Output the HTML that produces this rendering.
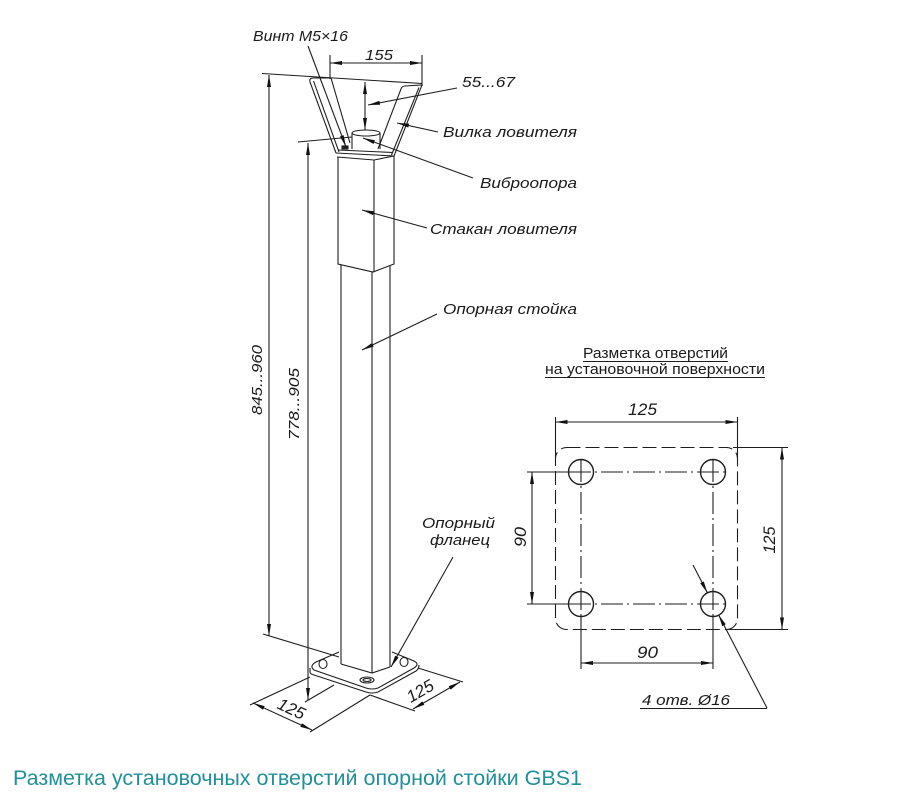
<!DOCTYPE html>
<html><head><meta charset="utf-8"><style>
html,body{margin:0;padding:0;background:#fff;}
svg{display:block;}
text{font-family:"Liberation Sans","DejaVu Sans",sans-serif;fill:#1a1a1a;}
.i{font-style:italic;font-size:15px;}
.n{font-style:italic;font-size:17px;}
</style></head><body>
<svg width="901" height="796" viewBox="0 0 901 796" xmlns="http://www.w3.org/2000/svg">
<defs>
<marker id="a" viewBox="0 0 12 4" refX="12" refY="2" markerWidth="12" markerHeight="4" markerUnits="userSpaceOnUse" orient="auto-start-reverse"><path d="M0,0L12,2L0,4z" fill="#111"/></marker>
</defs>
<g stroke="#1e1e1e" stroke-width="1.1" fill="none">
<!-- top extension line 845 -->
<line x1="262" y1="73.5" x2="422" y2="83.5"/>
<!-- 155 dim -->
<line x1="330" y1="55" x2="330" y2="79"/>
<line x1="422" y1="55" x2="422" y2="86"/>
<line x1="330" y1="63" x2="422" y2="63" marker-start="url(#a)" marker-end="url(#a)"/>
<!-- bracket left arm -->
<path d="M336,153 L310,82 Q309,78 313,78 L331,78 L350,143"/>
<path d="M339,152 L313.5,81"/>
<!-- bracket right arm -->
<path d="M378,149 L401,89 Q402,86 405,86 L422,85 L394,156"/>
<path d="M419,87.5 L391.5,155"/>
<!-- bracket floor -->
<path d="M336,153 L394,156"/>
<path d="M338,150 L393,152.5"/>
<path d="M337,157 L374,160 L394,156"/>
<!-- screw -->
<rect x="342" y="146" width="6" height="3" fill="#222"/>
<!-- vibro support -->
<ellipse cx="366" cy="133" rx="14" ry="3" fill="#fff"/>
<line x1="352" y1="133" x2="352" y2="149"/>
<line x1="380" y1="133" x2="380" y2="149"/>
<!-- 55..67 dim -->
<line x1="365" y1="82" x2="365" y2="130" marker-start="url(#a)" marker-end="url(#a)"/>
<!-- стакан -->
<path d="M338,157 L338,264 L373,272 L394,264 L394,156"/>
<line x1="374" y1="160" x2="374" y2="272"/>
<!-- lower post -->
<line x1="341" y1="265" x2="341" y2="664"/>
<line x1="372" y1="272" x2="372" y2="673"/>
<line x1="390" y1="266" x2="390" y2="667"/>
<path d="M341,664 L372,673 L390,667"/>
<!-- base plate -->
<path d="M339,652 L316,662 Q309,666 314,670 L366,688 Q372,690 378,688 L414,668 Q420,664 414,661 L392,652" fill="none"/>
<path d="M310,668 L310,672 Q310,674 314,675 L366,692 Q372,694 378,692 L416,671 Q419,669 419,665"/>
<ellipse cx="323" cy="664" rx="4" ry="4.5"/>
<ellipse cx="404" cy="662" rx="4" ry="4.5"/>
<ellipse cx="367" cy="680" rx="7" ry="3"/>
<ellipse cx="367" cy="680" rx="4" ry="1.5"/>
<!-- 845 dim -->
<line x1="269" y1="75" x2="269" y2="636" marker-start="url(#a)" marker-end="url(#a)"/>
<line x1="263" y1="634" x2="339" y2="657"/>
<!-- 778 dim -->
<line x1="298" y1="142" x2="352" y2="137"/>
<line x1="308" y1="143" x2="308" y2="700" marker-start="url(#a)" marker-end="url(#a)"/>
<line x1="305" y1="702" x2="334" y2="685"/>
<!-- 125 left -->
<line x1="250" y1="705" x2="310" y2="677"/>
<line x1="310" y1="732" x2="370" y2="695"/>
<line x1="253" y1="703" x2="312" y2="730" marker-start="url(#a)" marker-end="url(#a)"/>
<!-- 125 right -->
<line x1="370" y1="695" x2="415" y2="711"/>
<line x1="418" y1="668" x2="463" y2="682"/>
<line x1="413" y1="709" x2="460" y2="682" marker-start="url(#a)" marker-end="url(#a)"/>
<!-- leaders -->
<line x1="308" y1="46" x2="346" y2="147" marker-end="url(#a)"/>
<line x1="457" y1="88" x2="368" y2="105" marker-end="url(#a)"/>
<line x1="438" y1="132" x2="397" y2="123" marker-end="url(#a)"/>
<line x1="473" y1="178" x2="363" y2="138" marker-end="url(#a)"/>
<line x1="427" y1="228" x2="362" y2="210" marker-end="url(#a)"/>
<line x1="437" y1="314" x2="362" y2="350" marker-end="url(#a)"/>
<line x1="453" y1="557" x2="391" y2="667" marker-end="url(#a)"/>

<!-- right diagram -->
<line x1="583" y1="361.5" x2="728" y2="361.5"/>
<line x1="545" y1="377.5" x2="765" y2="377.5"/>
<rect x="555.5" y="447.5" width="182" height="182" rx="11" stroke-dasharray="14 5"/>
<line x1="555.5" y1="417" x2="555.5" y2="458"/>
<line x1="737.5" y1="417" x2="737.5" y2="458"/>
<line x1="555.5" y1="422" x2="737.5" y2="422" marker-start="url(#a)" marker-end="url(#a)"/>
<line x1="733" y1="447.5" x2="788" y2="447.5"/>
<line x1="727" y1="629.5" x2="788" y2="629.5"/>
<line x1="782" y1="447.5" x2="782" y2="629.5" marker-start="url(#a)" marker-end="url(#a)"/>
<!-- center lines -->
<line x1="527" y1="472" x2="569" y2="472"/>
<line x1="527" y1="604" x2="569" y2="604"/>
<line x1="569" y1="472" x2="727" y2="472" stroke-dasharray="22 4 2 4"/>
<line x1="569" y1="604" x2="727" y2="604" stroke-dasharray="22 4 2 4"/>
<line x1="581" y1="460" x2="581" y2="616" stroke-dasharray="22 4 2 4"/>
<line x1="713" y1="460" x2="713" y2="616" stroke-dasharray="22 4 2 4"/>
<line x1="581" y1="616" x2="581" y2="669"/>
<line x1="713" y1="616" x2="713" y2="669"/>
<line x1="532" y1="472" x2="532" y2="604" marker-start="url(#a)" marker-end="url(#a)"/>
<line x1="581" y1="663" x2="713" y2="663" marker-start="url(#a)" marker-end="url(#a)"/>
<circle cx="581" cy="472" r="12.5" stroke-width="1.4" fill="none"/>
<circle cx="713" cy="472" r="12.5" stroke-width="1.4" fill="none"/>
<circle cx="581" cy="604" r="12.5" stroke-width="1.4" fill="none"/>
<circle cx="713" cy="604" r="12.5" stroke-width="1.4" fill="none"/>
<!-- diameter leader -->
<line x1="693" y1="565" x2="707.5" y2="593" marker-end="url(#a)"/>
<line x1="767" y1="708" x2="718.5" y2="614.7" marker-end="url(#a)"/>
<line x1="640" y1="708.5" x2="767" y2="708.5"/>
</g>

<!-- labels -->
<text class="i" x="253" y="41" textLength="95" lengthAdjust="spacingAndGlyphs">Винт M5×16</text>
<text class="i" x="365" y="60" textLength="28" lengthAdjust="spacingAndGlyphs">155</text>
<text class="i" x="462" y="87" textLength="53" lengthAdjust="spacingAndGlyphs">55...67</text>
<text class="i" x="443" y="137" textLength="134" lengthAdjust="spacingAndGlyphs">Вилка ловителя</text>
<text class="i" x="480" y="188" textLength="97" lengthAdjust="spacingAndGlyphs">Виброопора</text>
<text class="i" x="430" y="234" textLength="147" lengthAdjust="spacingAndGlyphs">Стакан ловителя</text>
<text class="i" x="443" y="314" textLength="134" lengthAdjust="spacingAndGlyphs">Опорная стойка</text>
<text class="i" x="422" y="528" textLength="73" lengthAdjust="spacingAndGlyphs">Опорный</text>
<text class="i" x="430" y="545" textLength="60" lengthAdjust="spacingAndGlyphs">фланец</text>
<text class="i" transform="translate(262,380) rotate(-90)" text-anchor="middle" textLength="70" lengthAdjust="spacingAndGlyphs">845...960</text>
<text class="i" transform="translate(299,404) rotate(-90)" text-anchor="middle" textLength="72" lengthAdjust="spacingAndGlyphs">778...905</text>
<text class="n" transform="translate(289,714) rotate(25)" text-anchor="middle">125</text>
<text class="n" transform="translate(423,696) rotate(-30)" text-anchor="middle">125</text>

<text x="583" y="358" style="font-size:15px" textLength="145" lengthAdjust="spacingAndGlyphs">Разметка отверстий</text>
<text x="545" y="374" style="font-size:15px" textLength="220" lengthAdjust="spacingAndGlyphs">на установочной поверхности</text>
<text class="n" x="628" y="415" textLength="29" lengthAdjust="spacingAndGlyphs">125</text>
<text class="n" x="637" y="658" textLength="21" lengthAdjust="spacingAndGlyphs">90</text>
<text class="n" transform="translate(526,537) rotate(-90)" text-anchor="middle" textLength="20" lengthAdjust="spacingAndGlyphs">90</text>
<text class="n" transform="translate(775,540) rotate(-90)" text-anchor="middle" textLength="27" lengthAdjust="spacingAndGlyphs">125</text>
<text class="i" x="642" y="705" textLength="88" lengthAdjust="spacingAndGlyphs">4 отв. Ø16</text>

<text x="13" y="785" style="font-size:21px;fill:#22909b" textLength="569" lengthAdjust="spacingAndGlyphs">Разметка установочных отверстий опорной стойки GBS1</text>
</svg>
</body></html>
